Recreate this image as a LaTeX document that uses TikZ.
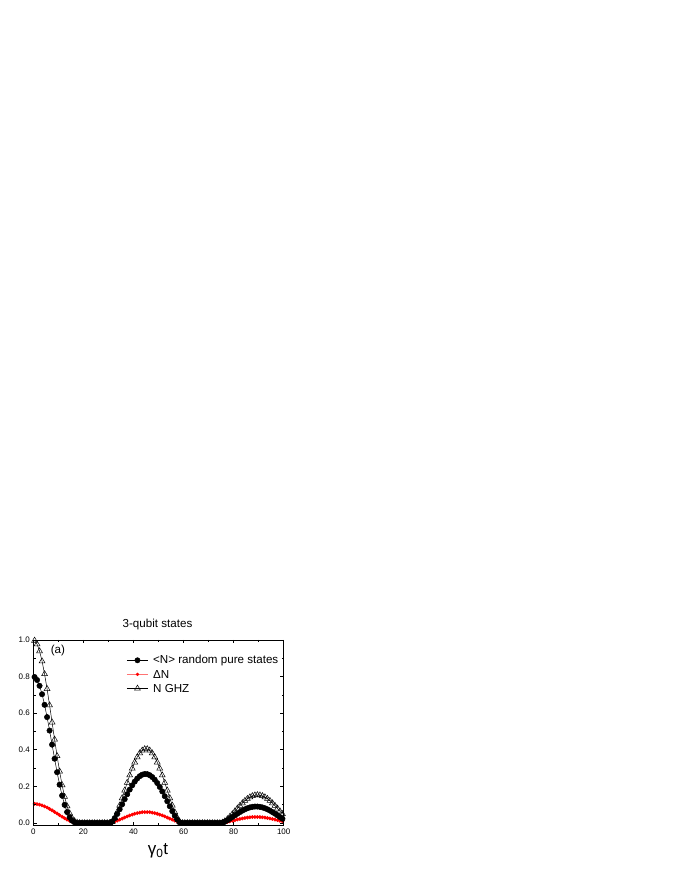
\documentclass[tikz,border=0pt]{standalone}
\usepackage{fontspec}
\setmainfont{Liberation Sans}
\usepackage{xcolor}
\usetikzlibrary{plotmarks}

\tikzset{
	ticklab/.style={font=\fontsize{8bp}{9bp}\selectfont,inner sep=1bp},
	legtext/.style={font=\fontsize{11.6bp}{13bp}\selectfont,inner sep=0pt,anchor=west},
	curve/.style={line width=0.5bp,domain=0.5:99.5,samples=100}
}

\begin{document}
\begin{tikzpicture}[x=2.504bp,y=183bp,
		declare function={
			hump(\xx,\cx,\hy,\wx,\nx)=(abs(\xx-\cx)<\wx)*\hy*(max(cos(90*(\xx-\cx)/\wx),0.01))^\nx;
			nghz(\xx)=hump(\xx,0,1,19,2.9)+hump(\xx,45,0.405,14,1.5)+hump(\xx,89.5,0.153,14.5,1.5);
			nrand(\xx)=hump(\xx,0,0.8,18,2.7)+hump(\xx,44.8,0.268,14,1.4)+hump(\xx,89,0.09,14,1.4);
			dn(\xx)=hump(\xx,0,0.105,18,1.8)+hump(\xx,45,0.06,15,1.5)+hump(\xx,89,0.033,14.5,1.5);
		}]
				\useasboundingbox (-13.3,-0.3115) rectangle (258.27,4.4973);

				\draw[curve,red,line width=0.8bp] plot[mark=*,mark size=1.45bp] (\x,{dn(\x)});
				\draw[curve] plot[mark=*,mark size=2.7bp] (\x,{nrand(\x)});
				\draw[curve] plot[mark=triangle,mark size=3.4bp] (\x,{nghz(\x)});

				\draw[line width=0.8bp] (0,-0.011) rectangle (100,1);
				\foreach \tx in {0,20,...,100} {
					\draw[line width=0.6bp] (\tx,-0.011) -- ++(0,3.5bp);
					\draw[line width=0.6bp] (\tx,1) -- ++(0,-3.5bp);
				}
				\foreach \tx in {10,30,...,90} {
					\draw[line width=0.6bp] (\tx,-0.011) -- ++(0,2.2bp);
					\draw[line width=0.6bp] (\tx,1) -- ++(0,-2.2bp);
				}
				\foreach \ty in {0,0.2,0.4,0.6,0.8,1} {
					\draw[line width=0.6bp] (0,\ty) -- ++(3.5bp,0);
					\draw[line width=0.6bp] (100,\ty) -- ++(-3.5bp,0);
				}
				\foreach \ty in {0.1,0.3,0.5,0.7,0.9} {
					\draw[line width=0.6bp] (0,\ty) -- ++(2.2bp,0);
					\draw[line width=0.6bp] (100,\ty) -- ++(-2.2bp,0);
				}

				\node[ticklab,anchor=north] (xl0) at (0,-0.027) {0};
				\node[ticklab,anchor=north] (xl20) at (20,-0.027) {20};
				\node[ticklab,anchor=north] (xl40) at (40,-0.027) {40};
				\node[ticklab,anchor=north] (xl60) at (60,-0.027) {60};
				\node[ticklab,anchor=north] (xl80) at (80,-0.027) {80};
				\node[ticklab,anchor=north] (xl100) at (100,-0.027) {100};

				\node[ticklab,anchor=east] (yl0) at (-0.9,0) {0.0};
				\node[ticklab,anchor=east] (yl2) at (-0.9,0.2) {0.2};
				\node[ticklab,anchor=east] (yl4) at (-0.9,0.4) {0.4};
				\node[ticklab,anchor=east] (yl6) at (-0.9,0.6) {0.6};
				\node[ticklab,anchor=east] (yl8) at (-0.9,0.8) {0.8};
				\node[ticklab,anchor=east] (yl10) at (-0.9,1) {1.0};

				\node[font=\fontsize{11.6bp}{13bp}\selectfont] (title) at (49.6,1.082) {3-qubit states};
				\node[font=\fontsize{11.6bp}{13bp}\selectfont] (panel) at (9.8,0.942) {(a)};
				\node[font=\fontsize{17bp}{19bp}\selectfont] (xlab) at (49.8,-0.153) {γ\textsubscript{0}t};

				\coordinate (lg1a) at (37.4,0.889);
				\coordinate (lg1b) at (45.8,0.889);
				\draw[line width=0.5bp] (lg1a) -- (lg1b);
				\draw plot[mark=*,mark size=2.7bp] coordinates {(41.6,0.889)};
				\node[legtext] (lg1) at (47.8,0.889) {<N> random pure states};

				\coordinate (lg2a) at (37.4,0.812);
				\coordinate (lg2b) at (45.8,0.812);
				\draw[line width=0.5bp,red!55] (lg2a) -- (lg2b);
				\draw[red] plot[mark=*,mark size=1.45bp] coordinates {(41.6,0.812)};
				\node[legtext] (lg2) at (47.8,0.812) {ΔN};

				\coordinate (lg3a) at (37.4,0.735);
				\coordinate (lg3b) at (45.8,0.735);
				\draw[line width=0.5bp] (lg3a) -- (lg3b);
				\draw[line width=0.5bp] plot[mark=triangle,mark size=3.4bp] coordinates {(41.6,0.735)};
				\node[legtext] (lg3) at (47.8,0.735) {N GHZ};
		\end{tikzpicture}
\end{document}
